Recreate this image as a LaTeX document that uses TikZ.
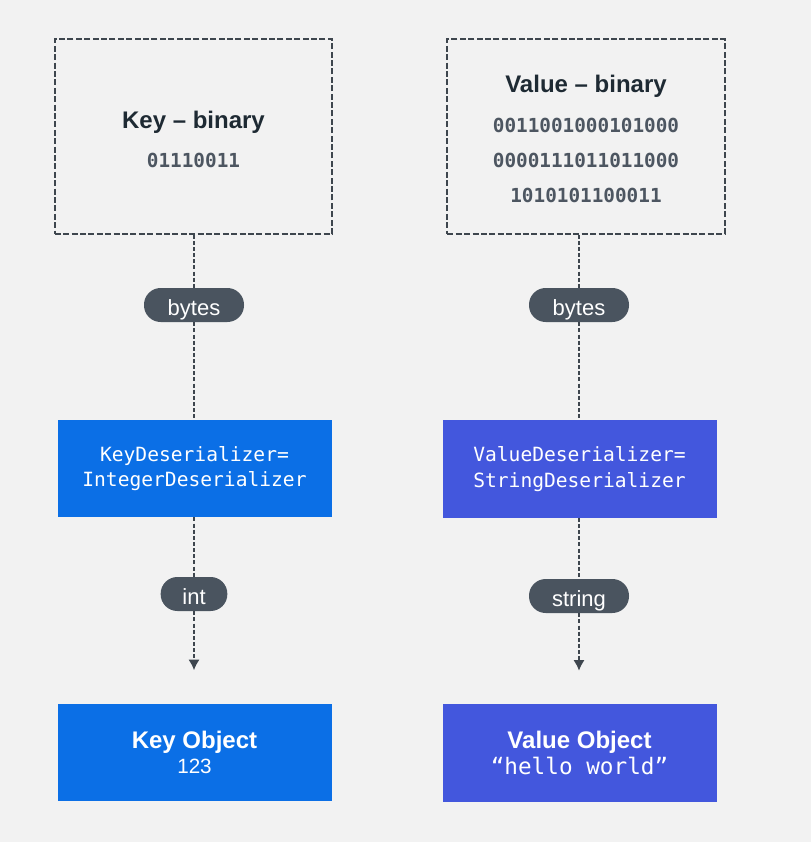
\documentclass[tikz,border=0pt]{standalone}
\usepackage{fontspec}
\setmainfont{Liberation Sans}
\setmonofont{DejaVu Sans Mono}
\usepackage{tikz}
\usetikzlibrary{arrows.meta}
\definecolor{bgcol}{HTML}{F2F2F2}
\definecolor{linecol}{HTML}{3E464E}
\definecolor{darktext}{HTML}{1E2A33}
\definecolor{bincol}{HTML}{4D5661}
\definecolor{pillcol}{HTML}{4A545F}
\definecolor{keyblue}{HTML}{0B6FE6}
\definecolor{valblue}{HTML}{4357DD}

\begin{document}
\begin{tikzpicture}[x=0.75pt,y=-0.75pt]
\fill[bgcol] (0,0) rectangle (811,842);
\tikzset{binbox/.style = {shape=rectangle,draw=linecol,line width=1.4pt,dash pattern=on 4.5pt off 1.8pt,minimum width=208pt,minimum height=146pt,align=center,text=bincol,font=\ttfamily\bfseries\fontsize{14.5}{26.5}\selectfont}}
\newcommand{\bintitle}[1]{{\rmfamily\bfseries\fontsize{18}{20}\selectfont\color{darktext}\rule{0pt}{17pt}#1}}
% binary boxes
\node[binbox] (kbin) at (193.5,136.5) {\bintitle{Key -- binary}\\[3pt] 01110011};
\node[binbox] (vbin) at (586,136.5) {\bintitle{Value -- binary}\\[3pt] 0011001000101000\\ 0000111011011000\\ 1010101100011};
\tikzset{pill/.style = {shape=rectangle,fill=pillcol,rounded corners=12.5pt,minimum height=25.5pt,minimum width=75pt,inner ysep=0pt,text height=17pt,text depth=2pt,text=white,font=\fontsize{16.5}{18}\selectfont}}
% type labels
\node[pill] (kbytes) at (194,305) {bytes};
\node[pill] (vbytes) at (579,305) {bytes};
\node[pill,minimum width=50pt] (kint) at (194,594) {int};
\node[pill] (vstr) at (579,596) {string};
\tikzset{serbox/.style = {shape=rectangle,minimum width=205.5pt,minimum height=73pt,align=center,text=white,font=\ttfamily\fontsize{14.7}{19}\selectfont}}
% deserializers
\node[serbox,fill=keyblue] (kser) at (194.5,468.5) {KeyDeserializer=\\IntegerDeserializer};
\node[serbox,fill=valblue] (vser) at (579.5,469) {ValueDeserializer=\\StringDeserializer};
% objects
\node[serbox,fill=keyblue,font=\fontsize{15.5}{19}\selectfont] (kobj) at (194.5,752.5) {{\fontsize{18}{19}\selectfont\bfseries Key Object}\\123};
\node[serbox,fill=valblue] (vobj) at (579.5,753) {{\rmfamily\fontsize{18}{19}\selectfont\bfseries Value Object}\\{\fontsize{17}{19}\selectfont “hello world”}};
%edges
\tikzset{edge/.style = {draw=linecol,line width=1.4pt,dash pattern=on 3pt off 1.6pt,> = {Latex[length=8pt,width=8.5pt]}}}
\draw[edge] (kbytes |- kbin.south) -- (kbytes);
\draw[edge] (kbytes) -- (kbytes |- kser.north);
\draw[edge] (kint |- kser.south) -- (kint);
\draw[edge,->,shorten >=25pt] (kint) -- (kint |- kobj.north);
\draw[edge] (vbytes |- vbin.south) -- (vbytes);
\draw[edge] (vbytes) -- (vbytes |- vser.north);
\draw[edge] (vstr |- vser.south) -- (vstr);
\draw[edge,->,shorten >=25pt] (vstr) -- (vstr |- vobj.north);
\end{tikzpicture}
\end{document}
